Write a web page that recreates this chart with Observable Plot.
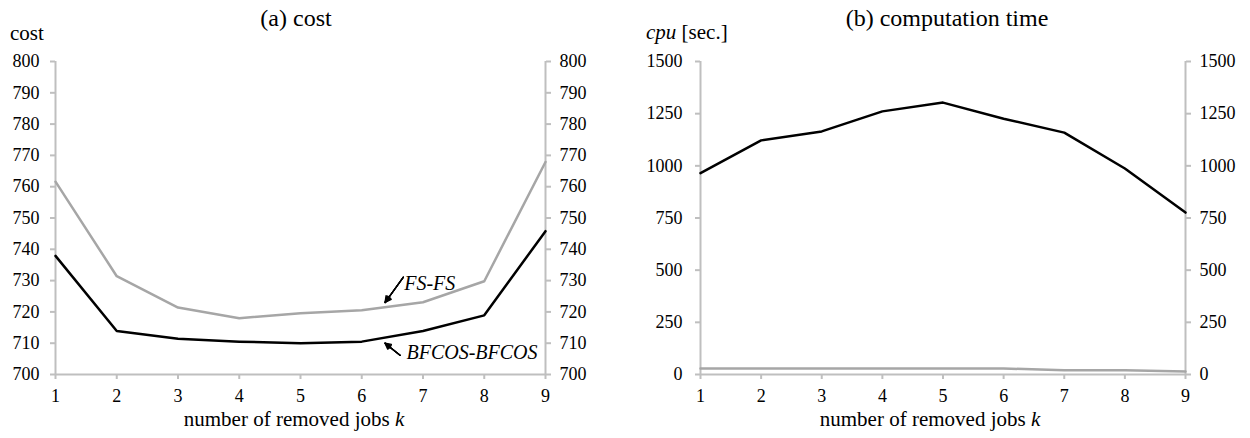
<!DOCTYPE html>
<html>
<head>
<meta charset="utf-8">
<script src="https://cdn.jsdelivr.net/npm/d3@7"></script>
<script src="https://cdn.jsdelivr.net/npm/@observablehq/plot@0.6"></script>
<style>
  body { margin: 0; background: #fff; font-family: "Liberation Serif", "Times New Roman", serif; }
  #wrap { display: flex; width: 1250px; height: 438px; }
  .panel { position: relative; width: 625px; height: 438px; }
  .panel svg { position: absolute; left: 0; top: 0; }
  .panel svg, .panel svg text { font-family: "Liberation Serif", "Times New Roman", serif !important; }
  .lbl { position: absolute; white-space: nowrap; color: #000; font-family: "Liberation Serif", "Times New Roman", serif; }
  .title { font-size: 24px; line-height: 24px; transform: translateX(-50%); }
  .ylab { font-size: 21px; line-height: 21px; }
  .xlab { font-size: 21px; line-height: 21px; transform: translateX(-50%); }
</style>
</head>
<body>
<div id="wrap">
  <div class="panel" id="pa">
    <div class="lbl title" style="left:296px; top:6px;">(a) cost</div>
    <div class="lbl ylab" style="left:10px; top:23px;">cost</div>
    <div class="lbl xlab" style="left:294px; top:409px;">number of removed jobs <i>k</i></div>
  </div>
  <div class="panel" id="pb">
    <div class="lbl title" style="left:322px; top:6px;">(b) computation time</div>
    <div class="lbl ylab" style="left:21px; top:22px;"><i>cpu</i> [sec.]</div>
    <div class="lbl xlab" style="left:305px; top:409px;">number of removed jobs <i>k</i></div>
  </div>
</div>
<script>
// ---- data ----
const jobs = [1, 2, 3, 4, 5, 6, 7, 8, 9];
const costFS = [761.6, 731.4, 721.4, 718.0, 719.6, 720.5, 723.1, 729.8, 767.9];
const costBFCOS = [737.9, 713.9, 711.4, 710.5, 710.0, 710.5, 713.9, 718.9, 745.8];
const cpuBFCOS = [965, 1122, 1165, 1261, 1303, 1226, 1159, 987, 776];
const cpuFS = [29, 29, 29, 29, 29, 29, 20, 20, 14];
const costTicks = [700, 710, 720, 730, 740, 750, 760, 770, 780, 790, 800];
const cpuTicks = [0, 250, 500, 750, 1000, 1250, 1500];
const annotLabels = [
  {text: "FS-FS", x: 7.11, y: 729.0},
  {text: "BFCOS-BFCOS", x: 7.80, y: 707.0}
];
const annotArrows = [
  {x1: 6.68, y1: 731.1, x2: 6.38, y2: 723.0},
  {x1: 6.63, y1: 706.1, x2: 6.38, y2: 710.0}
];

const AXIS = "#bfbfbf";
const GRAY = "#a6a6a6";
const FONT = "'Liberation Serif', 'Times New Roman', serif";

function rows(ys) { return jobs.map((k, i) => ({k, v: ys[i]})); }

function panel(opts) {
  const {domain, ticks, series, marginLeft, marginRight, padLeft, extra} = opts;
  const axisOpts = {ticks, tickFormat: d3.format("d"), tickSize: 5, tickPadding: 9, stroke: AXIS, strokeWidth: 2, fill: "#000", label: null, fontSize: 18, fontFamily: FONT};
  return Plot.plot({
    width: 625,
    height: 438,
    marginLeft,
    marginRight,
    marginTop: 61,
    marginBottom: 64,
    style: {fontFamily: FONT, fontSize: "18px", background: "transparent", overflow: "visible"},
    x: {domain: [1, 9]},
    y: {domain},
    marks: [
      Plot.ruleX([1, 9], {stroke: AXIS, strokeWidth: 2}),
      Plot.ruleY([domain[0]], {stroke: AXIS, strokeWidth: 2}),
      Plot.axisY({anchor: "left", ...axisOpts, tickPadding: padLeft}),
      Plot.axisY({anchor: "right", ...axisOpts}),
      Plot.axisX({anchor: "bottom", ...axisOpts, ticks: jobs, tickPadding: 10}),
      ...series.map(s => Plot.line(rows(s.values), {x: "k", y: "v", stroke: s.color, strokeWidth: 2.5})),
      ...(extra || [])
    ]
  });
}

const arrowHeads = [55, 40, 25, 10].map(angle =>
  Plot.arrow(annotArrows, {x1: "x1", y1: "y1", x2: "x2", y2: "y2", stroke: "#000", strokeWidth: 1.3, headLength: 8, headAngle: angle})
);

const a = panel({
  domain: [700, 800], ticks: costTicks, marginLeft: 55, marginRight: 80, padLeft: 11,
  series: [{values: costFS, color: GRAY}, {values: costBFCOS, color: "#000"}],
  extra: [
    Plot.text(annotLabels, {x: "x", y: "y", text: "text", fontStyle: "italic", fontSize: 20, fill: "#000", fontFamily: FONT}),
    ...arrowHeads
  ]
});
document.getElementById("pa").prepend(a);

const b = panel({
  domain: [0, 1500], ticks: cpuTicks, marginLeft: 75, marginRight: 65, padLeft: 13,
  series: [{values: cpuFS, color: GRAY}, {values: cpuBFCOS, color: "#000"}]
});
document.getElementById("pb").prepend(b);
</script>
</body>
</html>
